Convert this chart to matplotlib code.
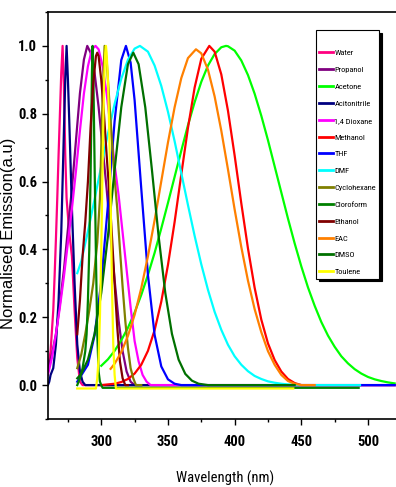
import matplotlib
matplotlib.use("Agg")
import matplotlib.pyplot as plt
from matplotlib.ticker import MultipleLocator

NARROW = ["Roboto Condensed", "DejaVu Sans"]
plt.rcParams["font.family"] = NARROW

# emission spectra (wavelength in nm, normalised intensity)
water_x = [260, 262, 264, 265, 266, 267, 268, 269, 270, 271, 272, 273, 274, 276, 278, 280, 282, 284, 286, 520]
water_y = [0.05, 0.10, 0.22, 0.32, 0.43, 0.55, 0.68, 0.80, 0.92, 1.00, 0.88, 0.68, 0.55, 0.45, 0.38, 0.22, 0.08, 0.01, 0.0, 0.0]

propanol_x = [260, 263, 266, 269, 272, 275, 278, 281, 284, 287, 289.5, 292, 295, 298, 301, 304, 307, 310, 313, 316, 319, 322, 325, 330]
propanol_y = [0.05, 0.09, 0.15, 0.24, 0.34, 0.46, 0.58, 0.72, 0.86, 0.96, 1.00, 0.98, 0.92, 0.82, 0.70, 0.58, 0.44, 0.31, 0.19, 0.10, 0.04, 0.01, 0.0, 0.0]

acetone_x = [300, 305, 310, 315, 320, 325, 330, 335, 340, 345, 350, 355, 360, 365, 370, 375, 380, 385, 390, 393.5,
             395, 400, 405, 410, 415, 420, 425, 430, 435, 440, 445, 450, 455, 460, 465, 470, 475, 480, 485, 490,
             495, 500, 505, 510, 515, 520]
acetone_y = [0.057, 0.076, 0.101, 0.132, 0.169, 0.214, 0.266, 0.325, 0.390, 0.462, 0.537, 0.614, 0.691, 0.766, 0.834,
             0.894, 0.942, 0.976, 0.996, 1.000, 0.999, 0.986, 0.957, 0.914, 0.859, 0.794, 0.722, 0.645, 0.568, 0.491,
             0.418, 0.350, 0.288, 0.234, 0.186, 0.146, 0.113, 0.085, 0.064, 0.047, 0.034, 0.024, 0.017, 0.012,
             0.008, 0.005]

acitonitrile_x = [260, 261, 262, 264, 266, 268, 270, 272, 273, 274, 275, 276, 278, 280, 282, 284, 286, 288, 520]
acitonitrile_y = [0.0, 0.01, 0.03, 0.05, 0.12, 0.25, 0.45, 0.75, 0.90, 1.00, 0.90, 0.78, 0.52, 0.30, 0.12, 0.04, 0.01, 0.0, 0.0]

dioxane_x = [260, 263, 266, 269, 272, 275, 278, 281, 284, 287, 290, 293, 295.7, 298, 301, 304, 307, 310, 313, 316,
             319, 322, 325, 328, 331, 334, 337, 520]
dioxane_y = [0.03, 0.08, 0.15, 0.23, 0.32, 0.42, 0.52, 0.63, 0.75, 0.86, 0.94, 0.99, 1.00, 0.99, 0.94, 0.86, 0.76,
             0.65, 0.56, 0.45, 0.34, 0.23, 0.13, 0.07, 0.03, 0.01, 0.0, 0.0]

methanol_x = [300, 305, 310, 315, 320, 325, 330, 335, 340, 345, 350, 355, 360, 365, 370, 375, 381, 385, 390, 395,
              400, 405, 410, 415, 420, 425, 430, 435, 440, 445, 450, 460]
methanol_y = [0.0, 0.002, 0.004, 0.009, 0.018, 0.034, 0.060, 0.101, 0.162, 0.246, 0.354, 0.481, 0.621, 0.758, 0.877,
              0.962, 1.000, 0.983, 0.916, 0.809, 0.677, 0.536, 0.403, 0.287, 0.193, 0.123, 0.074, 0.040, 0.018,
              0.006, 0.0, 0.0]

thf_x = [282, 290, 295, 300, 305, 310, 315, 318.5, 322, 325, 330, 335, 340, 345, 350, 355, 360, 520]
thf_y = [0.01, 0.06, 0.147, 0.305, 0.531, 0.778, 0.958, 1.000, 0.951, 0.840, 0.579, 0.325, 0.148, 0.055, 0.017,
         0.004, 0.0, 0.0]

dmf_x = [282, 285, 290, 295, 300, 305, 310, 315, 320, 325, 329, 335, 340, 345, 350, 355, 360, 365, 370, 375, 380,
         385, 390, 395, 400, 405, 410, 415, 420, 425, 430, 435, 440, 450, 494]
dmf_y = [0.33, 0.365, 0.453, 0.548, 0.646, 0.741, 0.829, 0.903, 0.959, 0.992, 1.000, 0.983, 0.942, 0.882, 0.806,
         0.719, 0.625, 0.531, 0.440, 0.356, 0.281, 0.216, 0.163, 0.119, 0.085, 0.060, 0.041, 0.027, 0.018, 0.011,
         0.007, 0.004, 0.002, 0.0, 0.0]

cyclohexane_x = [282, 285, 288, 291, 294, 297, 299, 301, 302.5, 304, 306, 308, 310, 312, 314, 316, 318, 320, 322,
                 324, 326, 330]
cyclohexane_y = [0.05, 0.09, 0.15, 0.22, 0.30, 0.42, 0.55, 0.85, 1.00, 0.96, 0.84, 0.72, 0.61, 0.52, 0.40, 0.29,
                 0.19, 0.11, 0.05, 0.02, 0.0, 0.0]

cloroform_x = [282, 284, 286, 288, 289, 290, 291, 292, 293, 293.5, 294, 295, 296, 297, 298, 299, 300, 301, 493]
cloroform_y = [0.0, 0.02, 0.05, 0.10, 0.15, 0.25, 0.40, 0.62, 0.92, 1.00, 0.93, 0.65, 0.38, 0.15, 0.04, 0.01, 0.0,
               -0.008, -0.008]

ethanol_x = [282, 284, 286, 288, 290, 292, 294, 296, 297, 298, 300, 302, 304, 306, 308, 310, 312, 314, 316, 318, 320]
ethanol_y = [0.15, 0.25, 0.38, 0.48, 0.60, 0.76, 0.89, 0.97, 0.98, 0.97, 0.90, 0.80, 0.68, 0.57, 0.44, 0.30, 0.17,
             0.07, 0.02, 0.0, 0.0]

eac_x = [307, 310, 315, 320, 325, 330, 335, 340, 345, 350, 355, 360, 365, 371, 375, 380, 385, 390, 395, 400, 405,
         410, 415, 420, 425, 430, 435, 440, 445, 450, 460]
eac_y = [0.048, 0.063, 0.097, 0.145, 0.207, 0.286, 0.380, 0.486, 0.601, 0.715, 0.819, 0.905, 0.964, 0.990, 0.978,
         0.930, 0.851, 0.750, 0.636, 0.518, 0.407, 0.308, 0.224, 0.156, 0.100, 0.060, 0.030, 0.012, 0.004, 0.0, 0.0]

dmso_x = [282, 285, 290, 295, 300, 305, 310, 315, 320, 324, 328, 333, 338, 343, 348, 353, 358, 363, 368, 373, 380, 445]
dmso_y = [0.02, 0.033, 0.075, 0.151, 0.272, 0.439, 0.634, 0.819, 0.946, 0.980, 0.946, 0.819, 0.634, 0.439, 0.272,
          0.151, 0.075, 0.033, 0.013, 0.004, 0.0, 0.0]

toulene_x = [282, 296, 297, 298, 299, 300, 301, 302, 303, 303.5, 304, 305, 306, 307, 308, 309, 310, 311, 444]
toulene_y = [-0.01, -0.01, 0.02, 0.08, 0.20, 0.40, 0.65, 0.88, 0.98, 1.00, 0.98, 0.90, 0.75, 0.55, 0.30, 0.12, 0.03,
             -0.01, -0.01]

labels = ["Water", "Propanol", "Acetone", "Acitonitrile", "1,4 Dioxane", "Methanol", "THF", "DMF",
          "Cyclohexane", "Cloroform", "Ethanol", "EAC", "DMSO", "Toulene"]
series = [(water_x, water_y), (propanol_x, propanol_y), (acetone_x, acetone_y),
          (acitonitrile_x, acitonitrile_y), (dioxane_x, dioxane_y), (methanol_x, methanol_y),
          (thf_x, thf_y), (dmf_x, dmf_y), (cyclohexane_x, cyclohexane_y), (cloroform_x, cloroform_y),
          (ethanol_x, ethanol_y), (eac_x, eac_y), (dmso_x, dmso_y), (toulene_x, toulene_y)]
colors = ["#FF0080", "#800080", "#00FF00", "#000080", "#FF00FF", "#FF0000", "#0000FF", "#00FFFF",
          "#808000", "#008000", "#800000", "#FF8000", "#007000", "#FFFF00"]

fig = plt.figure(figsize=(3.96, 4.87), dpi=100)
ax = fig.add_axes([0.12, 0.1396, 0.88, 0.8358])

for (x, y), lab, col in zip(series, labels, colors):
    ax.plot(x, y, color=col, lw=1.6, label=lab)

ax.set_xlim(259.7, 521)
ax.set_ylim(-0.1, 1.1)
ax.xaxis.set_major_locator(MultipleLocator(50))
ax.xaxis.set_minor_locator(MultipleLocator(25))
ax.yaxis.set_major_locator(MultipleLocator(0.2))
ax.yaxis.set_minor_locator(MultipleLocator(0.1))
ax.yaxis.set_major_formatter(lambda v, pos: f"{v:.1f}")
ax.tick_params(which="major", direction="out", length=4.5, width=1.0, labelsize=10.5)
ax.tick_params(which="minor", direction="out", length=2.5, width=1.0)
ax.tick_params(axis="x", which="major", pad=7)
ax.tick_params(axis="y", which="major", pad=3)
for t in ax.get_xticklabels() + ax.get_yticklabels():
    t.set_fontweight("bold")
ax.spines["right"].set_visible(False)
for s in ("left", "bottom", "top"):
    ax.spines[s].set_linewidth(1.2)

ax.set_xlabel("Wavelength (nm)", fontsize=10.5, family=NARROW)
ax.xaxis.set_label_coords(0.509, -0.128)
ax.set_ylabel("Normalised Emission(a.u)", fontsize=12, family=["Liberation Sans", "DejaVu Sans"])
ax.yaxis.set_label_coords(-0.09, 0.457)

leg = ax.legend(loc="upper left", bbox_to_anchor=(0.798, 0.938), bbox_transform=fig.transFigure,
                fontsize=6, title=" ", title_fontsize=6, frameon=True, fancybox=False,
                shadow={"color": "black", "alpha": 1.0}, borderaxespad=0, borderpad=0.4,
                handlelength=1.6, handletextpad=0.2, labelspacing=1.2)
leg.get_frame().set_edgecolor("black")
leg.get_frame().set_linewidth(0.8)
for line in leg.get_lines():
    line.set_linewidth(2.0)

fig.savefig("out.png", dpi=100)
